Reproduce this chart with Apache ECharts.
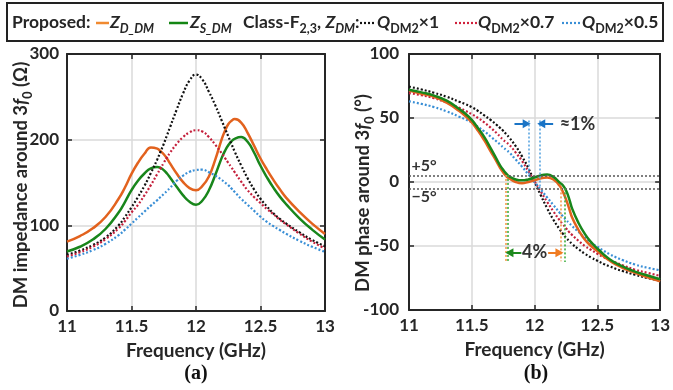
<!DOCTYPE html>
<html><head><meta charset="utf-8">
<script src="https://cdn.jsdelivr.net/npm/echarts@6/dist/echarts.min.js"></script>
<style>html,body{margin:0;padding:0;background:#fff}#c{width:673px;height:390px}</style>
</head><body><div id="c"></div>
<script>
// ---------- data ----------
const freq = [11,11.1,11.2,11.3,11.4,11.45,11.5,11.55,11.6,11.65,11.7,11.725,11.75,11.775,11.8,11.85,11.9,11.95,12,12.05,12.1,12.15,12.2,12.225,12.25,12.275,12.3,12.35,12.4,12.45,12.5,12.55,12.6,12.65,12.7,12.8,12.9,13];
// (a) DM impedance (Ohm)
const zD   = [81,87.5,96.5,110,131,144.5,160,173,183.5,191,189.5,186.5,183,178,172,160.5,150.5,143.5,141,146,157,177,201,210.5,218,222,224,220,208,193,178,165,153,142,132,116,102,90];
const zS   = [69.5,75,83.5,96,115,127.5,141,152,160.5,166.5,168,167,164.5,160.5,155.5,145,135,127.5,124,129,141,159,179,187,193.5,198,201,203,197.5,185,169.5,156,144,133.5,124.5,108.5,95,83.5];
const zQ1  = [65.5,70.5,77,86,100,110,121,133,146,161,177,186,195,205,215,235,254,269,276,270,256,240,222,213,204,195,186,170,155,142,131,122,114,107.5,102,92,83,75.5];
const zQ07 = [63.5,68.5,75,84,96.5,105,115,124,135,147,160,166.5,173,179,185,195,203,208.5,211,209.5,203,194,184,178.5,173,167.5,162,151,141,133,126,119,113,106.5,101,90.5,81,73];
const zQ05 = [61,65.5,71,78.5,88.5,95,102,109,116,123,129.5,133,136.5,140,144,152,158,162.5,164.5,165,162,158,153,150,147,143,139,131,124,117,110,104,99,94.5,90,82,75,69];
// (b) DM phase (deg)
const pD   = [71.5,69,66.5,62,55.5,51.5,46.5,40,32.5,24,15.5,11,7.5,4.5,2.8,0,-1,0,1.3,3,3.5,2,-3,-7.5,-13.5,-20.5,-28,-37.5,-45,-50,-54,-58,-61.5,-64.5,-67,-71,-74.5,-77.5];
const pS   = [72,70,67.5,63.5,57,53.3,48.5,42,35,26.5,17.5,13,9.5,6.5,4.3,2,1.3,2,3.5,5.2,5.8,4,-0.5,-2.5,-6.5,-13,-21,-32,-40.5,-47,-52,-56.5,-60.5,-63.5,-66,-70,-73,-76];
const pQ1  = [74.5,72.3,69.7,66.6,62.7,60.8,58.5,55.5,52,48.5,44.5,42.3,40,37.3,34.5,28,20,11,0,-10.5,-20.5,-29.5,-37,-40.3,-43.5,-46,-48.5,-52.5,-56,-59,-61.5,-64,-66,-68,-69.5,-72.5,-75,-77];
const pQ07 = [69.5,67.8,65.5,62,58,55.6,53,50,46.5,42.5,38,35.5,33,31,29,23,16.5,8.5,0.5,-7.5,-15.5,-23,-30,-33,-36,-39,-41.5,-46,-50,-53,-56,-58.7,-61,-63.1,-65,-68.5,-71,-73.3];
const pQ05 = [63,61,58.5,55.2,51,48.9,46.5,43,39.5,35.5,31.5,29.3,27,25,23,17.5,12,6,0,-6,-12,-18,-24,-26.8,-29.5,-32,-34.5,-39,-43.5,-47.5,-50.5,-53.7,-56.5,-58.9,-61,-64.5,-67,-69];
// ticks
const freqTicks = [11,11.5,12,12.5,13];
const zTicks = [0,100,200,300];
const pTicks = [-100,-50,0,50,100];
// annotation values
const bandLevels = [5,-5];
const blueCross = [11.95,12.04];
const orangeCross = [11.767,12.208];
const greenCross = [11.79,12.243];

// ---------- style ----------
const FONT = "Lato,'Open Sans',sans-serif";
const SERIF = "'Liberation Serif','DejaVu Serif',serif";
const TXT = '#262626';
const C = {d:'#E2621E', s:'#18861B', q1:'#111111', q07:'#C4203C', q05:'#3A8FD6'};

function pairs(ys){ return freq.map((f,i)=>[f, ys[i]]); }
function step(a){ return a[1]-a[0]; }

function xAx(grid, top, primary){
  return {type:'value', gridIndex:grid, position: top?'top':'bottom',
    min:freqTicks[0], max:freqTicks[freqTicks.length-1], interval:step(freqTicks),
    axisLine:{show:true, onZero:false, lineStyle:{color:'#262626', width:2}},
    axisTick:{show:true, inside:true, length:5, lineStyle:{color:'#262626', width:1.5}},
    axisLabel:{show:primary, margin:7, color:TXT, fontFamily:FONT, fontWeight:'bold', fontSize:17},
    splitLine:{show:primary, lineStyle:{color:'#dadada', width:1.5}},
    name: primary?'Frequency (GHz)':'', nameLocation:'middle', nameGap:30,
    nameTextStyle:{color:TXT, fontFamily:FONT, fontWeight:'bold', fontSize:19}
  };
}
function yAx(grid, right, primary, ticks, margin){
  return {type:'value', gridIndex:grid, position: right?'right':'left',
    min:ticks[0], max:ticks[ticks.length-1], interval:step(ticks),
    axisLine:{show:true, onZero:false, lineStyle:{color:'#262626', width:2}},
    axisTick:{show:true, inside:true, length:5, lineStyle:{color:'#262626', width:1.5}},
    axisLabel:{show:primary, margin:margin, color:TXT, fontFamily:FONT, fontWeight:'bold', fontSize:17},
    splitLine:{show:primary, lineStyle:{color:'#dadada', width:1.5}}
  };
}
function line(xi, yi, ys, color, dotted, extra){
  return Object.assign({type:'line', xAxisIndex:xi, yAxisIndex:yi, data:pairs(ys),
    showSymbol:false, symbol:'none', smooth:0.5, silent:true, animation:false,
    lineStyle:{color:color, width: dotted?2.2:2.5, type: dotted?[2,2]:'solid', cap:'butt'}}, extra||{});
}

const dotStyle = (c)=>({color:c, width:1.6, type:[2,2]});
const vl = (f, y0, y1, c)=>[{coord:[f,y0], lineStyle:dotStyle(c)}, {coord:[f,y1]}];
const arrow = (f0, f1, y, c)=>[{coord:[f0,y], symbol:'none', lineStyle:{color:c, width:2, type:'solid'}},
                                {coord:[f1,y], symbol:'triangle', symbolSize:[9,8]}];

const annotations = {
  silent:true, symbol:'none', animation:false, label:{show:false},
  data:[
    {yAxis:bandLevels[0], lineStyle:{color:'#555', width:1.5, type:[2,2]}},
    {yAxis:bandLevels[1], lineStyle:{color:'#555', width:1.5, type:[2,2]}},
    vl(blueCross[0], 48, 5, '#5AA5E0'),
    vl(blueCross[1], 48, -5, '#5AA5E0'),
    vl(orangeCross[0], 5.5, -62, '#F29A4A'),
    vl(greenCross[0], 5.5, -62, '#3DB040'),
    vl(orangeCross[1], -5, -62, '#F29A4A'),
    vl(greenCross[1], -5, -62.5, '#3DB040'),
    arrow(11.84, 11.937, 45.5, '#1A74C6'),
    arrow(12.148, 12.053, 45.5, '#1A74C6'),
    arrow(11.895, 11.80, -55.2, '#1E8A1E'),
    arrow(12.108, 12.198, -55.2, '#F07C22')
  ]
};

const option = {
  animation:false,
  backgroundColor:'#fff',
  grid:[
    {left:67, top:54, width:258, height:257},
    {left:409, top:54, width:254, height:256}
  ],
  xAxis:[xAx(0,false,true), xAx(0,true,false), xAx(1,false,true), xAx(1,true,false)],
  yAxis:[yAx(0,false,true,zTicks,8), yAx(0,true,false,zTicks,8), yAx(1,false,true,pTicks,10), yAx(1,true,false,pTicks,10)],
  series:[
    line(0,0,zD,C.d,false),
    line(0,0,zS,C.s,false),
    line(0,0,zQ1,C.q1,true),
    line(0,0,zQ07,C.q07,true),
    line(0,0,zQ05,C.q05,true),
    line(2,2,pQ1,C.q1,true, {markLine:annotations}),
    line(2,2,pQ07,C.q07,true),
    line(2,2,pQ05,C.q05,true),
    line(2,2,pD,C.d,false),
    line(2,2,pS,C.s,false)
  ]
};

const chart = echarts.init(document.getElementById('c'), null, {renderer:'canvas'});
chart.setOption(option);

// ---------- texts / legend ----------
const base = {fontFamily:FONT, fontWeight:'bold', fill:TXT};
const rich = {
  b:  Object.assign({}, base, {fontSize:17.5, lineHeight:26}),
  i:  Object.assign({}, base, {fontSize:17.5, lineHeight:26, fontStyle:'italic'}),
  si: Object.assign({}, base, {fontSize:12.5, lineHeight:11, fontStyle:'italic', verticalAlign:'bottom'}),
  s:  Object.assign({}, base, {fontSize:12.5, lineHeight:14, verticalAlign:'bottom'})
};
function rt(x, y, text){
  return {type:'text', x:x, y:y, silent:true,
    style:{text:text, rich:rich, align:'left', verticalAlign:'middle', fontFamily:FONT, fontWeight:'bold', fontSize:17.5, fill:TXT}};
}
function seg(x0, x1, y, color, dotted){
  return {type:'line', silent:true, shape:{x1:x0, y1:y, x2:x1, y2:y},
    style:{stroke:color, lineWidth: dotted?2.2:2.5, lineDash: dotted?[2,2]:null}};
}
const px = (x,y)=>chart.convertToPixel({xAxisIndex:2, yAxisIndex:2}, [x,y]);
const pOne = px(12.2, 45), pFour = px(12.0, -55.2), pP5 = px(11.02, 12.7), pM5 = px(11.02, -11.4);

const ynameRich = {
  b:  Object.assign({}, base, {fontSize:18.5, lineHeight:26}),
  i:  Object.assign({}, base, {fontSize:18.5, lineHeight:26, fontStyle:'italic'}),
  s:  Object.assign({}, base, {fontSize:12.5, lineHeight:13, verticalAlign:'bottom'})
};
function yname(x, y, text){
  return {type:'text', x:x, y:y, rotation:Math.PI/2, silent:true,
    style:{text:text, rich:ynameRich, align:'center', verticalAlign:'middle', fill:TXT}};
}

const graphic = [
  {type:'rect', silent:true, shape:{x:7, y:3, width:656, height:38}, style:{fill:'#fff', stroke:'#222', lineWidth:2}},
  rt(12, 22, '{b|Proposed:}'),
  seg(96, 109, 23, '#F08A30', false),
  rt(110, 22, '{i|Z}{si|D_DM}'),
  seg(169, 188, 23, '#138613', false),
  rt(190, 22, '{i|Z}{si|S_DM}'),
  rt(243, 22, '{b|Class-F}{s|2,3}{b|, }{i|Z}{si|DM}{b|:}'),
  seg(360, 375, 23, '#111', true),
  rt(377, 22, '{i|Q}{s|DM2}{b|×1}'),
  seg(455, 477, 23, '#D0213C', true),
  rt(478, 22, '{i|Q}{s|DM2}{b|×0.7}'),
  seg(562, 580, 23, '#3A8FD6', true),
  rt(582, 22, '{i|Q}{s|DM2}{b|×0.5}'),
  yname(21, 185, '{b|DM impedance around 3}{i|f}{s|0}{b| (Ω)}'),
  yname(363, 193, '{b|DM phase around 3}{i|f}{s|0}{b| (°)}'),
  {type:'text', x:196, y:374, silent:true, style:{text:'(a)', align:'center', verticalAlign:'middle', fontFamily:SERIF, fontWeight:'bold', fontSize:20, fill:'#111'}},
  {type:'text', x:536, y:374, silent:true, style:{text:'(b)', align:'center', verticalAlign:'middle', fontFamily:SERIF, fontWeight:'bold', fontSize:20, fill:'#111'}},
  {type:'text', x:pOne[0], y:pOne[1], silent:true, style:{text:'≈1%', align:'left', verticalAlign:'middle', fontFamily:FONT, fontWeight:'bold', fontSize:18, fill:'#333'}},
  {type:'text', x:pFour[0], y:pFour[1], silent:true, style:{text:'4%', align:'center', verticalAlign:'middle', fontFamily:FONT, fontWeight:'bold', fontSize:18, fill:'#333'}},
  {type:'text', x:pP5[0], y:pP5[1], silent:true, style:{text:'+5°', align:'left', verticalAlign:'middle', fontFamily:FONT, fontWeight:'bold', fontSize:16, fill:'#333'}},
  {type:'text', x:pM5[0], y:pM5[1], silent:true, style:{text:'−5°', align:'left', verticalAlign:'middle', fontFamily:FONT, fontWeight:'bold', fontSize:16, fill:'#333'}}
];
chart.setOption({graphic:graphic});
</script></body></html>
